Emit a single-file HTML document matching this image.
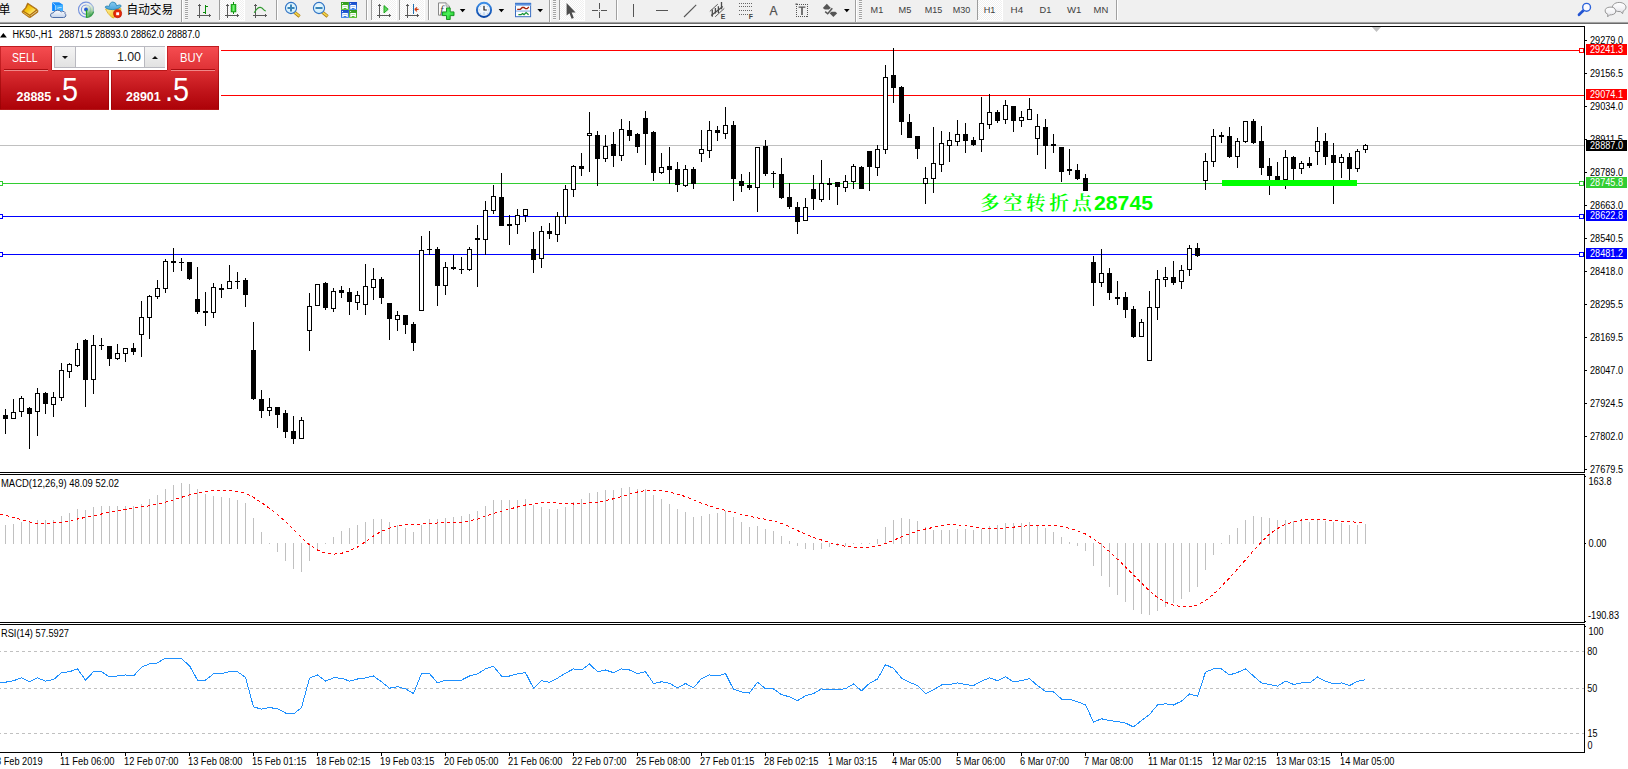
<!DOCTYPE html>
<html><head><meta charset="utf-8"><title>HK50-,H1</title><style>
html,body{margin:0;padding:0;background:#fff}
body{width:1628px;height:769px;overflow:hidden;position:relative;font-family:"Liberation Sans","Noto Sans CJK SC",sans-serif}
#oc{position:absolute;left:0;top:46px;width:219px;height:64px;color:#fff}
#oc .wbg{position:absolute;left:52px;top:0;width:115px;height:64px;background:#fff}
#oc .wbg2{position:absolute;left:219px;top:0;width:2px;height:64px;background:#fff}
#oc .tab{position:absolute;top:0;height:25px;background:linear-gradient(#f54c50,#dd3034);box-sizing:border-box;border:1px solid rgba(165,10,12,.55);border-bottom:none}
#oc .btn{position:absolute;top:24px;height:40px;background:linear-gradient(#dc2e32,#c0141a 55%,#ad0208);box-sizing:border-box;border:1px solid rgba(140,0,0,.5);border-top:none}
#oc .bt{position:absolute;top:24px;height:1px;background:rgba(150,0,0,.5)}
#oc .ud{position:absolute;top:23px;width:44px;height:1px;background:#ab0d12}
#oc .ul{position:absolute;top:24px;width:44px;height:1px;background:#f08888}
#oc .vol{position:absolute;left:54px;top:0;width:111px;height:22px;background:#fff;box-sizing:border-box;border:1px solid #b9b9c0}
#oc .vb{position:absolute;top:0;height:20px;background:linear-gradient(#f4f4f4,#e2e2e2);box-sizing:border-box}
#oc .vb:first-child{border-right:1px solid #b9b9c0}
#oc .vb:last-child{border-left:1px solid #b9b9c0}
#oc .vi{position:absolute;left:21px;top:0;width:68px;height:20px;line-height:21px;text-align:right;box-sizing:border-box;padding-right:3px;color:#222;font-size:12.4px}
#oc i{position:absolute;left:7px;width:0;height:0;border-left:3px solid transparent;border-right:3px solid transparent}
#oc i.dn{top:9px;border-top:3.2px solid #111}
#oc i.up{top:8.5px;border-bottom:3.2px solid #111}
#oc .lbl{position:absolute;top:4.6px;font-size:12.2px;line-height:14px;transform-origin:0 0}
#oc .pr{position:absolute;top:44.5px;font-size:12.5px;font-weight:bold;line-height:12px}
#oc .big{position:absolute;top:28px;font-size:32.6px;line-height:32px;letter-spacing:0px;transform:scaleX(0.885);transform-origin:0 0}
</style></head><body>
<svg width="1628" height="769" viewBox="0 0 1628 769" style="position:absolute;left:0;top:0" font-family="'Liberation Sans',sans-serif" font-size="10px">
<g shape-rendering="crispEdges">
<rect x="0" y="50" width="1584" height="1" fill="#ff0000"/>
<rect x="0" y="95" width="1584" height="1" fill="#ff0000"/>
<rect x="0" y="145" width="1584" height="1" fill="#c0c0c0"/>
<rect x="0" y="183" width="1584" height="1" fill="#32cd32"/>
<rect x="0" y="216" width="1584" height="1" fill="#0000ff"/>
<rect x="0" y="254" width="1584" height="1" fill="#0000ff"/>
<rect x="1579.5" y="48.5" width="4" height="4" fill="#fff" stroke="#ff0000" stroke-width="1"/>
<rect x="1579.5" y="181.5" width="4" height="4" fill="#fff" stroke="#32cd32" stroke-width="1"/>
<rect x="-1.5" y="181.5" width="4" height="4" fill="#fff" stroke="#32cd32" stroke-width="1"/>
<rect x="1579.5" y="214.5" width="4" height="4" fill="#fff" stroke="#0000ff" stroke-width="1"/>
<rect x="-1.5" y="214.5" width="4" height="4" fill="#fff" stroke="#0000ff" stroke-width="1"/>
<rect x="1579.5" y="252.5" width="4" height="4" fill="#fff" stroke="#0000ff" stroke-width="1"/>
<rect x="-1.5" y="252.5" width="4" height="4" fill="#fff" stroke="#0000ff" stroke-width="1"/>
<rect x="5" y="409" width="1" height="25" fill="#000"/>
<rect x="3" y="415" width="5" height="4" fill="#000"/>
<rect x="13" y="399" width="1" height="20" fill="#000"/>
<rect x="11.5" y="412.5" width="4" height="6" fill="#fff" stroke="#000" stroke-width="1"/>
<rect x="21" y="396" width="1" height="21" fill="#000"/>
<rect x="19.5" y="398.5" width="4" height="13" fill="#fff" stroke="#000" stroke-width="1"/>
<rect x="29" y="407" width="1" height="42" fill="#000"/>
<rect x="27" y="408" width="5" height="6" fill="#000"/>
<rect x="37" y="388" width="1" height="48" fill="#000"/>
<rect x="35.5" y="393.5" width="4" height="18" fill="#fff" stroke="#000" stroke-width="1"/>
<rect x="45" y="392" width="1" height="22" fill="#000"/>
<rect x="43" y="393" width="5" height="11" fill="#000"/>
<rect x="53" y="392" width="1" height="25" fill="#000"/>
<rect x="51.5" y="397.5" width="4" height="7" fill="#fff" stroke="#000" stroke-width="1"/>
<rect x="61" y="363" width="1" height="38" fill="#000"/>
<rect x="59.5" y="370.5" width="4" height="27" fill="#fff" stroke="#000" stroke-width="1"/>
<rect x="69" y="363" width="1" height="15" fill="#000"/>
<rect x="67.5" y="364.5" width="4" height="7" fill="#fff" stroke="#000" stroke-width="1"/>
<rect x="77" y="343" width="1" height="24" fill="#000"/>
<rect x="75.5" y="349.5" width="4" height="16" fill="#fff" stroke="#000" stroke-width="1"/>
<rect x="85" y="339" width="1" height="68" fill="#000"/>
<rect x="83" y="340" width="5" height="40" fill="#000"/>
<rect x="93" y="335" width="1" height="59" fill="#000"/>
<rect x="91.5" y="345.5" width="4" height="34" fill="#fff" stroke="#000" stroke-width="1"/>
<rect x="101" y="338" width="1" height="12" fill="#000"/>
<rect x="99" y="345" width="5" height="1" fill="#000"/>
<rect x="109" y="346" width="1" height="20" fill="#000"/>
<rect x="107" y="346" width="5" height="13" fill="#000"/>
<rect x="117" y="344" width="1" height="16" fill="#000"/>
<rect x="115.5" y="353.5" width="4" height="5" fill="#fff" stroke="#000" stroke-width="1"/>
<rect x="125" y="348" width="1" height="14" fill="#000"/>
<rect x="123.5" y="348.5" width="4" height="5" fill="#fff" stroke="#000" stroke-width="1"/>
<rect x="133" y="343" width="1" height="12" fill="#000"/>
<rect x="131" y="348" width="5" height="4" fill="#000"/>
<rect x="141" y="301" width="1" height="56" fill="#000"/>
<rect x="139.5" y="317.5" width="4" height="17" fill="#fff" stroke="#000" stroke-width="1"/>
<rect x="149" y="295" width="1" height="44" fill="#000"/>
<rect x="147.5" y="296.5" width="4" height="21" fill="#fff" stroke="#000" stroke-width="1"/>
<rect x="157" y="280" width="1" height="19" fill="#000"/>
<rect x="155.5" y="288.5" width="4" height="8" fill="#fff" stroke="#000" stroke-width="1"/>
<rect x="165" y="259" width="1" height="34" fill="#000"/>
<rect x="163.5" y="261.5" width="4" height="27" fill="#fff" stroke="#000" stroke-width="1"/>
<rect x="173" y="248" width="1" height="24" fill="#000"/>
<rect x="171" y="261" width="5" height="2" fill="#000"/>
<rect x="181" y="258" width="1" height="13" fill="#000"/>
<rect x="179" y="262" width="5" height="1" fill="#000"/>
<rect x="189" y="262" width="1" height="18" fill="#000"/>
<rect x="187" y="262" width="5" height="17" fill="#000"/>
<rect x="197" y="267" width="1" height="47" fill="#000"/>
<rect x="195" y="299" width="5" height="13" fill="#000"/>
<rect x="205" y="292" width="1" height="34" fill="#000"/>
<rect x="203" y="311" width="5" height="2" fill="#000"/>
<rect x="213" y="283" width="1" height="35" fill="#000"/>
<rect x="211.5" y="287.5" width="4" height="25" fill="#fff" stroke="#000" stroke-width="1"/>
<rect x="221" y="284" width="1" height="14" fill="#000"/>
<rect x="219" y="288" width="5" height="2" fill="#000"/>
<rect x="229" y="265" width="1" height="24" fill="#000"/>
<rect x="227.5" y="281.5" width="4" height="7" fill="#fff" stroke="#000" stroke-width="1"/>
<rect x="237" y="272" width="1" height="17" fill="#000"/>
<rect x="235" y="281" width="5" height="1" fill="#000"/>
<rect x="245" y="278" width="1" height="29" fill="#000"/>
<rect x="243" y="280" width="5" height="15" fill="#000"/>
<rect x="253" y="322" width="1" height="78" fill="#000"/>
<rect x="251" y="350" width="5" height="49" fill="#000"/>
<rect x="261" y="390" width="1" height="28" fill="#000"/>
<rect x="259" y="399" width="5" height="12" fill="#000"/>
<rect x="269" y="398" width="1" height="18" fill="#000"/>
<rect x="267.5" y="407.5" width="4" height="3" fill="#fff" stroke="#000" stroke-width="1"/>
<rect x="277" y="407" width="1" height="21" fill="#000"/>
<rect x="275" y="407" width="5" height="8" fill="#000"/>
<rect x="285" y="410" width="1" height="28" fill="#000"/>
<rect x="283" y="413" width="5" height="19" fill="#000"/>
<rect x="293" y="416" width="1" height="28" fill="#000"/>
<rect x="291" y="431" width="5" height="8" fill="#000"/>
<rect x="301" y="417" width="1" height="22" fill="#000"/>
<rect x="299.5" y="420.5" width="4" height="18" fill="#fff" stroke="#000" stroke-width="1"/>
<rect x="309" y="293" width="1" height="58" fill="#000"/>
<rect x="307.5" y="306.5" width="4" height="24" fill="#fff" stroke="#000" stroke-width="1"/>
<rect x="317" y="284" width="1" height="22" fill="#000"/>
<rect x="315.5" y="284.5" width="4" height="21" fill="#fff" stroke="#000" stroke-width="1"/>
<rect x="325" y="282" width="1" height="28" fill="#000"/>
<rect x="323" y="283" width="5" height="25" fill="#000"/>
<rect x="333" y="288" width="1" height="24" fill="#000"/>
<rect x="331.5" y="291.5" width="4" height="17" fill="#fff" stroke="#000" stroke-width="1"/>
<rect x="341" y="286" width="1" height="12" fill="#000"/>
<rect x="339" y="290" width="5" height="3" fill="#000"/>
<rect x="349" y="288" width="1" height="27" fill="#000"/>
<rect x="347" y="292" width="5" height="10" fill="#000"/>
<rect x="357" y="291" width="1" height="19" fill="#000"/>
<rect x="355.5" y="295.5" width="4" height="7" fill="#fff" stroke="#000" stroke-width="1"/>
<rect x="365" y="264" width="1" height="51" fill="#000"/>
<rect x="363.5" y="286.5" width="4" height="18" fill="#fff" stroke="#000" stroke-width="1"/>
<rect x="373" y="268" width="1" height="32" fill="#000"/>
<rect x="371.5" y="279.5" width="4" height="8" fill="#fff" stroke="#000" stroke-width="1"/>
<rect x="381" y="277" width="1" height="27" fill="#000"/>
<rect x="379" y="279" width="5" height="19" fill="#000"/>
<rect x="389" y="303" width="1" height="37" fill="#000"/>
<rect x="387" y="303" width="5" height="16" fill="#000"/>
<rect x="397" y="311" width="1" height="20" fill="#000"/>
<rect x="395.5" y="315.5" width="4" height="4" fill="#fff" stroke="#000" stroke-width="1"/>
<rect x="405" y="315" width="1" height="19" fill="#000"/>
<rect x="403" y="315" width="5" height="10" fill="#000"/>
<rect x="413" y="322" width="1" height="29" fill="#000"/>
<rect x="411" y="324" width="5" height="19" fill="#000"/>
<rect x="421" y="236" width="1" height="75" fill="#000"/>
<rect x="419.5" y="250.5" width="4" height="60" fill="#fff" stroke="#000" stroke-width="1"/>
<rect x="429" y="231" width="1" height="24" fill="#000"/>
<rect x="427" y="249" width="5" height="1" fill="#000"/>
<rect x="437" y="247" width="1" height="59" fill="#000"/>
<rect x="435" y="249" width="5" height="37" fill="#000"/>
<rect x="445" y="262" width="1" height="33" fill="#000"/>
<rect x="443.5" y="267.5" width="4" height="18" fill="#fff" stroke="#000" stroke-width="1"/>
<rect x="453" y="255" width="1" height="15" fill="#000"/>
<rect x="451" y="267" width="5" height="2" fill="#000"/>
<rect x="461" y="257" width="1" height="17" fill="#000"/>
<rect x="459" y="269" width="5" height="1" fill="#000"/>
<rect x="469" y="247" width="1" height="24" fill="#000"/>
<rect x="467.5" y="249.5" width="4" height="20" fill="#fff" stroke="#000" stroke-width="1"/>
<rect x="477" y="225" width="1" height="62" fill="#000"/>
<rect x="475" y="238" width="5" height="2" fill="#000"/>
<rect x="485" y="201" width="1" height="54" fill="#000"/>
<rect x="483.5" y="210.5" width="4" height="29" fill="#fff" stroke="#000" stroke-width="1"/>
<rect x="493" y="185" width="1" height="29" fill="#000"/>
<rect x="491.5" y="196.5" width="4" height="14" fill="#fff" stroke="#000" stroke-width="1"/>
<rect x="501" y="173" width="1" height="53" fill="#000"/>
<rect x="499" y="197" width="5" height="29" fill="#000"/>
<rect x="509" y="215" width="1" height="30" fill="#000"/>
<rect x="507" y="224" width="5" height="2" fill="#000"/>
<rect x="517" y="209" width="1" height="25" fill="#000"/>
<rect x="515.5" y="215.5" width="4" height="9" fill="#fff" stroke="#000" stroke-width="1"/>
<rect x="525" y="209" width="1" height="13" fill="#000"/>
<rect x="523.5" y="209.5" width="4" height="6" fill="#fff" stroke="#000" stroke-width="1"/>
<rect x="533" y="232" width="1" height="41" fill="#000"/>
<rect x="531" y="249" width="5" height="11" fill="#000"/>
<rect x="541" y="226" width="1" height="42" fill="#000"/>
<rect x="539.5" y="231.5" width="4" height="27" fill="#fff" stroke="#000" stroke-width="1"/>
<rect x="549" y="223" width="1" height="16" fill="#000"/>
<rect x="547" y="231" width="5" height="3" fill="#000"/>
<rect x="557" y="212" width="1" height="30" fill="#000"/>
<rect x="555.5" y="216.5" width="4" height="18" fill="#fff" stroke="#000" stroke-width="1"/>
<rect x="565" y="185" width="1" height="39" fill="#000"/>
<rect x="563.5" y="189.5" width="4" height="27" fill="#fff" stroke="#000" stroke-width="1"/>
<rect x="573" y="165" width="1" height="32" fill="#000"/>
<rect x="571.5" y="166.5" width="4" height="23" fill="#fff" stroke="#000" stroke-width="1"/>
<rect x="581" y="153" width="1" height="23" fill="#000"/>
<rect x="579" y="166" width="5" height="3" fill="#000"/>
<rect x="589" y="112" width="1" height="60" fill="#000"/>
<rect x="587.5" y="133.5" width="4" height="2" fill="#fff" stroke="#000" stroke-width="1"/>
<rect x="597" y="131" width="1" height="55" fill="#000"/>
<rect x="595" y="135" width="5" height="24" fill="#000"/>
<rect x="605" y="135" width="1" height="27" fill="#000"/>
<rect x="603.5" y="146.5" width="4" height="12" fill="#fff" stroke="#000" stroke-width="1"/>
<rect x="613" y="132" width="1" height="35" fill="#000"/>
<rect x="611" y="144" width="5" height="12" fill="#000"/>
<rect x="621" y="119" width="1" height="42" fill="#000"/>
<rect x="619.5" y="129.5" width="4" height="26" fill="#fff" stroke="#000" stroke-width="1"/>
<rect x="629" y="121" width="1" height="20" fill="#000"/>
<rect x="627" y="130" width="5" height="6" fill="#000"/>
<rect x="637" y="133" width="1" height="20" fill="#000"/>
<rect x="635" y="134" width="5" height="13" fill="#000"/>
<rect x="645" y="111" width="1" height="54" fill="#000"/>
<rect x="643" y="118" width="5" height="16" fill="#000"/>
<rect x="653" y="131" width="1" height="50" fill="#000"/>
<rect x="651" y="132" width="5" height="41" fill="#000"/>
<rect x="661" y="153" width="1" height="21" fill="#000"/>
<rect x="659.5" y="167.5" width="4" height="5" fill="#fff" stroke="#000" stroke-width="1"/>
<rect x="669" y="147" width="1" height="37" fill="#000"/>
<rect x="667" y="166" width="5" height="4" fill="#000"/>
<rect x="677" y="162" width="1" height="30" fill="#000"/>
<rect x="675" y="169" width="5" height="16" fill="#000"/>
<rect x="685" y="165" width="1" height="22" fill="#000"/>
<rect x="683.5" y="169.5" width="4" height="16" fill="#fff" stroke="#000" stroke-width="1"/>
<rect x="693" y="167" width="1" height="22" fill="#000"/>
<rect x="691" y="169" width="5" height="15" fill="#000"/>
<rect x="701" y="130" width="1" height="32" fill="#000"/>
<rect x="699.5" y="149.5" width="4" height="4" fill="#fff" stroke="#000" stroke-width="1"/>
<rect x="709" y="121" width="1" height="37" fill="#000"/>
<rect x="707.5" y="130.5" width="4" height="20" fill="#fff" stroke="#000" stroke-width="1"/>
<rect x="717" y="126" width="1" height="15" fill="#000"/>
<rect x="715" y="130" width="5" height="3" fill="#000"/>
<rect x="725" y="107" width="1" height="32" fill="#000"/>
<rect x="723.5" y="125.5" width="4" height="8" fill="#fff" stroke="#000" stroke-width="1"/>
<rect x="733" y="121" width="1" height="80" fill="#000"/>
<rect x="731" y="125" width="5" height="54" fill="#000"/>
<rect x="741" y="174" width="1" height="18" fill="#000"/>
<rect x="739" y="181" width="5" height="5" fill="#000"/>
<rect x="749" y="172" width="1" height="18" fill="#000"/>
<rect x="747" y="185" width="5" height="3" fill="#000"/>
<rect x="757" y="147" width="1" height="65" fill="#000"/>
<rect x="755.5" y="147.5" width="4" height="40" fill="#fff" stroke="#000" stroke-width="1"/>
<rect x="765" y="140" width="1" height="36" fill="#000"/>
<rect x="763" y="146" width="5" height="28" fill="#000"/>
<rect x="773" y="171" width="1" height="17" fill="#000"/>
<rect x="771" y="173" width="5" height="1" fill="#000"/>
<rect x="781" y="158" width="1" height="41" fill="#000"/>
<rect x="779" y="174" width="5" height="24" fill="#000"/>
<rect x="789" y="183" width="1" height="26" fill="#000"/>
<rect x="787" y="197" width="5" height="10" fill="#000"/>
<rect x="797" y="202" width="1" height="32" fill="#000"/>
<rect x="795" y="207" width="5" height="15" fill="#000"/>
<rect x="805" y="198" width="1" height="23" fill="#000"/>
<rect x="803.5" y="207.5" width="4" height="13" fill="#fff" stroke="#000" stroke-width="1"/>
<rect x="813" y="175" width="1" height="35" fill="#000"/>
<rect x="811" y="189" width="5" height="10" fill="#000"/>
<rect x="821" y="160" width="1" height="42" fill="#000"/>
<rect x="819.5" y="183.5" width="4" height="16" fill="#fff" stroke="#000" stroke-width="1"/>
<rect x="829" y="178" width="1" height="22" fill="#000"/>
<rect x="827" y="183" width="5" height="2" fill="#000"/>
<rect x="837" y="182" width="1" height="23" fill="#000"/>
<rect x="835" y="182" width="5" height="5" fill="#000"/>
<rect x="845" y="175" width="1" height="17" fill="#000"/>
<rect x="843.5" y="181.5" width="4" height="6" fill="#fff" stroke="#000" stroke-width="1"/>
<rect x="853" y="164" width="1" height="25" fill="#000"/>
<rect x="851.5" y="166.5" width="4" height="15" fill="#fff" stroke="#000" stroke-width="1"/>
<rect x="861" y="166" width="1" height="23" fill="#000"/>
<rect x="859" y="167" width="5" height="22" fill="#000"/>
<rect x="869" y="151" width="1" height="40" fill="#000"/>
<rect x="867" y="151" width="5" height="16" fill="#000"/>
<rect x="877" y="145" width="1" height="31" fill="#000"/>
<rect x="875.5" y="149.5" width="4" height="18" fill="#fff" stroke="#000" stroke-width="1"/>
<rect x="885" y="65" width="1" height="89" fill="#000"/>
<rect x="883.5" y="77.5" width="4" height="72" fill="#fff" stroke="#000" stroke-width="1"/>
<rect x="893" y="48" width="1" height="55" fill="#000"/>
<rect x="891" y="75" width="5" height="13" fill="#000"/>
<rect x="901" y="86" width="1" height="49" fill="#000"/>
<rect x="899" y="87" width="5" height="35" fill="#000"/>
<rect x="909" y="114" width="1" height="24" fill="#000"/>
<rect x="907" y="122" width="5" height="16" fill="#000"/>
<rect x="917" y="136" width="1" height="23" fill="#000"/>
<rect x="915" y="136" width="5" height="13" fill="#000"/>
<rect x="925" y="167" width="1" height="37" fill="#000"/>
<rect x="923.5" y="178.5" width="4" height="5" fill="#fff" stroke="#000" stroke-width="1"/>
<rect x="933" y="127" width="1" height="66" fill="#000"/>
<rect x="931.5" y="163.5" width="4" height="15" fill="#fff" stroke="#000" stroke-width="1"/>
<rect x="941" y="131" width="1" height="41" fill="#000"/>
<rect x="939.5" y="143.5" width="4" height="21" fill="#fff" stroke="#000" stroke-width="1"/>
<rect x="949" y="132" width="1" height="30" fill="#000"/>
<rect x="947.5" y="140.5" width="4" height="5" fill="#fff" stroke="#000" stroke-width="1"/>
<rect x="957" y="120" width="1" height="26" fill="#000"/>
<rect x="955.5" y="134.5" width="4" height="7" fill="#fff" stroke="#000" stroke-width="1"/>
<rect x="965" y="123" width="1" height="30" fill="#000"/>
<rect x="963" y="134" width="5" height="7" fill="#000"/>
<rect x="973" y="137" width="1" height="9" fill="#000"/>
<rect x="971" y="140" width="5" height="5" fill="#000"/>
<rect x="981" y="97" width="1" height="55" fill="#000"/>
<rect x="979.5" y="123.5" width="4" height="16" fill="#fff" stroke="#000" stroke-width="1"/>
<rect x="989" y="94" width="1" height="35" fill="#000"/>
<rect x="987.5" y="112.5" width="4" height="12" fill="#fff" stroke="#000" stroke-width="1"/>
<rect x="997" y="110" width="1" height="13" fill="#000"/>
<rect x="995" y="112" width="5" height="9" fill="#000"/>
<rect x="1005" y="100" width="1" height="24" fill="#000"/>
<rect x="1003.5" y="105.5" width="4" height="14" fill="#fff" stroke="#000" stroke-width="1"/>
<rect x="1013" y="106" width="1" height="26" fill="#000"/>
<rect x="1011" y="106" width="5" height="15" fill="#000"/>
<rect x="1021" y="111" width="1" height="16" fill="#000"/>
<rect x="1019.5" y="117.5" width="4" height="3" fill="#fff" stroke="#000" stroke-width="1"/>
<rect x="1029" y="98" width="1" height="22" fill="#000"/>
<rect x="1027.5" y="109.5" width="4" height="10" fill="#fff" stroke="#000" stroke-width="1"/>
<rect x="1037" y="114" width="1" height="41" fill="#000"/>
<rect x="1035.5" y="126.5" width="4" height="12" fill="#fff" stroke="#000" stroke-width="1"/>
<rect x="1045" y="119" width="1" height="50" fill="#000"/>
<rect x="1043" y="127" width="5" height="19" fill="#000"/>
<rect x="1053" y="134" width="1" height="19" fill="#000"/>
<rect x="1051" y="144" width="5" height="2" fill="#000"/>
<rect x="1061" y="147" width="1" height="35" fill="#000"/>
<rect x="1059" y="147" width="5" height="25" fill="#000"/>
<rect x="1069" y="149" width="1" height="26" fill="#000"/>
<rect x="1067" y="169" width="5" height="2" fill="#000"/>
<rect x="1077" y="164" width="1" height="16" fill="#000"/>
<rect x="1075" y="170" width="5" height="9" fill="#000"/>
<rect x="1085" y="174" width="1" height="17" fill="#000"/>
<rect x="1083" y="178" width="5" height="13" fill="#000"/>
<rect x="1093" y="256" width="1" height="50" fill="#000"/>
<rect x="1091" y="262" width="5" height="21" fill="#000"/>
<rect x="1101" y="249" width="1" height="38" fill="#000"/>
<rect x="1099.5" y="273.5" width="4" height="9" fill="#fff" stroke="#000" stroke-width="1"/>
<rect x="1109" y="268" width="1" height="32" fill="#000"/>
<rect x="1107" y="273" width="5" height="20" fill="#000"/>
<rect x="1117" y="281" width="1" height="24" fill="#000"/>
<rect x="1115" y="297" width="5" height="2" fill="#000"/>
<rect x="1125" y="292" width="1" height="26" fill="#000"/>
<rect x="1123" y="297" width="5" height="13" fill="#000"/>
<rect x="1133" y="306" width="1" height="32" fill="#000"/>
<rect x="1131" y="309" width="5" height="28" fill="#000"/>
<rect x="1141" y="319" width="1" height="18" fill="#000"/>
<rect x="1139.5" y="322.5" width="4" height="14" fill="#fff" stroke="#000" stroke-width="1"/>
<rect x="1149" y="291" width="1" height="70" fill="#000"/>
<rect x="1147.5" y="307.5" width="4" height="53" fill="#fff" stroke="#000" stroke-width="1"/>
<rect x="1157" y="270" width="1" height="50" fill="#000"/>
<rect x="1155.5" y="279.5" width="4" height="28" fill="#fff" stroke="#000" stroke-width="1"/>
<rect x="1165" y="267" width="1" height="20" fill="#000"/>
<rect x="1163.5" y="277.5" width="4" height="2" fill="#fff" stroke="#000" stroke-width="1"/>
<rect x="1173" y="261" width="1" height="24" fill="#000"/>
<rect x="1171" y="277" width="5" height="6" fill="#000"/>
<rect x="1181" y="265" width="1" height="24" fill="#000"/>
<rect x="1179.5" y="270.5" width="4" height="11" fill="#fff" stroke="#000" stroke-width="1"/>
<rect x="1189" y="245" width="1" height="31" fill="#000"/>
<rect x="1187.5" y="248.5" width="4" height="21" fill="#fff" stroke="#000" stroke-width="1"/>
<rect x="1197" y="243" width="1" height="14" fill="#000"/>
<rect x="1195" y="248" width="5" height="8" fill="#000"/>
<rect x="1205" y="153" width="1" height="37" fill="#000"/>
<rect x="1203.5" y="161.5" width="4" height="19" fill="#fff" stroke="#000" stroke-width="1"/>
<rect x="1213" y="129" width="1" height="38" fill="#000"/>
<rect x="1211.5" y="136.5" width="4" height="25" fill="#fff" stroke="#000" stroke-width="1"/>
<rect x="1221" y="132" width="1" height="11" fill="#000"/>
<rect x="1219" y="135" width="5" height="2" fill="#000"/>
<rect x="1229" y="127" width="1" height="31" fill="#000"/>
<rect x="1227" y="136" width="5" height="21" fill="#000"/>
<rect x="1237" y="138" width="1" height="30" fill="#000"/>
<rect x="1235.5" y="141.5" width="4" height="15" fill="#fff" stroke="#000" stroke-width="1"/>
<rect x="1245" y="121" width="1" height="22" fill="#000"/>
<rect x="1243.5" y="121.5" width="4" height="20" fill="#fff" stroke="#000" stroke-width="1"/>
<rect x="1253" y="119" width="1" height="25" fill="#000"/>
<rect x="1251" y="121" width="5" height="22" fill="#000"/>
<rect x="1261" y="126" width="1" height="49" fill="#000"/>
<rect x="1259" y="141" width="5" height="27" fill="#000"/>
<rect x="1269" y="158" width="1" height="37" fill="#000"/>
<rect x="1267" y="166" width="5" height="10" fill="#000"/>
<rect x="1277" y="162" width="1" height="19" fill="#000"/>
<rect x="1275" y="176" width="5" height="5" fill="#000"/>
<rect x="1285" y="150" width="1" height="39" fill="#000"/>
<rect x="1283.5" y="157.5" width="4" height="22" fill="#fff" stroke="#000" stroke-width="1"/>
<rect x="1293" y="156" width="1" height="25" fill="#000"/>
<rect x="1291" y="157" width="5" height="12" fill="#000"/>
<rect x="1301" y="161" width="1" height="13" fill="#000"/>
<rect x="1299.5" y="163.5" width="4" height="5" fill="#fff" stroke="#000" stroke-width="1"/>
<rect x="1309" y="157" width="1" height="11" fill="#000"/>
<rect x="1307" y="163" width="5" height="3" fill="#000"/>
<rect x="1317" y="127" width="1" height="38" fill="#000"/>
<rect x="1315.5" y="141.5" width="4" height="10" fill="#fff" stroke="#000" stroke-width="1"/>
<rect x="1325" y="133" width="1" height="32" fill="#000"/>
<rect x="1323" y="141" width="5" height="16" fill="#000"/>
<rect x="1333" y="143" width="1" height="61" fill="#000"/>
<rect x="1331" y="155" width="5" height="8" fill="#000"/>
<rect x="1341" y="154" width="1" height="24" fill="#000"/>
<rect x="1339.5" y="157.5" width="4" height="5" fill="#fff" stroke="#000" stroke-width="1"/>
<rect x="1349" y="153" width="1" height="28" fill="#000"/>
<rect x="1347" y="157" width="5" height="12" fill="#000"/>
<rect x="1357" y="149" width="1" height="23" fill="#000"/>
<rect x="1355.5" y="151.5" width="4" height="17" fill="#fff" stroke="#000" stroke-width="1"/>
<rect x="1365" y="144" width="1" height="9" fill="#000"/>
<rect x="1363.5" y="145.5" width="4" height="4" fill="#fff" stroke="#000" stroke-width="1"/>
<rect x="1222" y="180" width="135" height="6" fill="#00ff00"/>
<rect x="5" y="525" width="1" height="19" fill="#c0c0c0"/>
<rect x="13" y="524" width="1" height="20" fill="#c0c0c0"/>
<rect x="21" y="522" width="1" height="22" fill="#c0c0c0"/>
<rect x="29" y="521" width="1" height="23" fill="#c0c0c0"/>
<rect x="37" y="520" width="1" height="24" fill="#c0c0c0"/>
<rect x="45" y="520" width="1" height="24" fill="#c0c0c0"/>
<rect x="53" y="520" width="1" height="24" fill="#c0c0c0"/>
<rect x="61" y="516" width="1" height="28" fill="#c0c0c0"/>
<rect x="69" y="513" width="1" height="31" fill="#c0c0c0"/>
<rect x="77" y="509" width="1" height="35" fill="#c0c0c0"/>
<rect x="85" y="510" width="1" height="34" fill="#c0c0c0"/>
<rect x="93" y="507" width="1" height="37" fill="#c0c0c0"/>
<rect x="101" y="506" width="1" height="38" fill="#c0c0c0"/>
<rect x="109" y="506" width="1" height="38" fill="#c0c0c0"/>
<rect x="117" y="506" width="1" height="38" fill="#c0c0c0"/>
<rect x="125" y="506" width="1" height="38" fill="#c0c0c0"/>
<rect x="133" y="506" width="1" height="38" fill="#c0c0c0"/>
<rect x="141" y="504" width="1" height="40" fill="#c0c0c0"/>
<rect x="149" y="499" width="1" height="45" fill="#c0c0c0"/>
<rect x="157" y="495" width="1" height="49" fill="#c0c0c0"/>
<rect x="165" y="489" width="1" height="55" fill="#c0c0c0"/>
<rect x="173" y="485" width="1" height="59" fill="#c0c0c0"/>
<rect x="181" y="483" width="1" height="61" fill="#c0c0c0"/>
<rect x="189" y="484" width="1" height="60" fill="#c0c0c0"/>
<rect x="197" y="489" width="1" height="55" fill="#c0c0c0"/>
<rect x="205" y="494" width="1" height="50" fill="#c0c0c0"/>
<rect x="213" y="496" width="1" height="48" fill="#c0c0c0"/>
<rect x="221" y="497" width="1" height="47" fill="#c0c0c0"/>
<rect x="229" y="498" width="1" height="46" fill="#c0c0c0"/>
<rect x="237" y="500" width="1" height="44" fill="#c0c0c0"/>
<rect x="245" y="503" width="1" height="41" fill="#c0c0c0"/>
<rect x="253" y="518" width="1" height="26" fill="#c0c0c0"/>
<rect x="261" y="532" width="1" height="12" fill="#c0c0c0"/>
<rect x="269" y="543" width="1" height="1" fill="#c0c0c0"/>
<rect x="277" y="543" width="1" height="9" fill="#c0c0c0"/>
<rect x="285" y="543" width="1" height="18" fill="#c0c0c0"/>
<rect x="293" y="543" width="1" height="26" fill="#c0c0c0"/>
<rect x="301" y="543" width="1" height="29" fill="#c0c0c0"/>
<rect x="309" y="543" width="1" height="18" fill="#c0c0c0"/>
<rect x="317" y="543" width="1" height="6" fill="#c0c0c0"/>
<rect x="325" y="543" width="1" height="1" fill="#c0c0c0"/>
<rect x="333" y="537" width="1" height="7" fill="#c0c0c0"/>
<rect x="341" y="531" width="1" height="13" fill="#c0c0c0"/>
<rect x="349" y="528" width="1" height="16" fill="#c0c0c0"/>
<rect x="357" y="525" width="1" height="19" fill="#c0c0c0"/>
<rect x="365" y="522" width="1" height="22" fill="#c0c0c0"/>
<rect x="373" y="519" width="1" height="25" fill="#c0c0c0"/>
<rect x="381" y="519" width="1" height="25" fill="#c0c0c0"/>
<rect x="389" y="522" width="1" height="22" fill="#c0c0c0"/>
<rect x="397" y="525" width="1" height="19" fill="#c0c0c0"/>
<rect x="405" y="528" width="1" height="16" fill="#c0c0c0"/>
<rect x="413" y="532" width="1" height="12" fill="#c0c0c0"/>
<rect x="421" y="525" width="1" height="19" fill="#c0c0c0"/>
<rect x="429" y="519" width="1" height="25" fill="#c0c0c0"/>
<rect x="437" y="519" width="1" height="25" fill="#c0c0c0"/>
<rect x="445" y="518" width="1" height="26" fill="#c0c0c0"/>
<rect x="453" y="517" width="1" height="27" fill="#c0c0c0"/>
<rect x="461" y="516" width="1" height="28" fill="#c0c0c0"/>
<rect x="469" y="514" width="1" height="30" fill="#c0c0c0"/>
<rect x="477" y="511" width="1" height="33" fill="#c0c0c0"/>
<rect x="485" y="506" width="1" height="38" fill="#c0c0c0"/>
<rect x="493" y="500" width="1" height="44" fill="#c0c0c0"/>
<rect x="501" y="500" width="1" height="44" fill="#c0c0c0"/>
<rect x="509" y="500" width="1" height="44" fill="#c0c0c0"/>
<rect x="517" y="500" width="1" height="44" fill="#c0c0c0"/>
<rect x="525" y="499" width="1" height="45" fill="#c0c0c0"/>
<rect x="533" y="505" width="1" height="39" fill="#c0c0c0"/>
<rect x="541" y="507" width="1" height="37" fill="#c0c0c0"/>
<rect x="549" y="509" width="1" height="35" fill="#c0c0c0"/>
<rect x="557" y="509" width="1" height="35" fill="#c0c0c0"/>
<rect x="565" y="507" width="1" height="37" fill="#c0c0c0"/>
<rect x="573" y="502" width="1" height="42" fill="#c0c0c0"/>
<rect x="581" y="499" width="1" height="45" fill="#c0c0c0"/>
<rect x="589" y="493" width="1" height="51" fill="#c0c0c0"/>
<rect x="597" y="492" width="1" height="52" fill="#c0c0c0"/>
<rect x="605" y="490" width="1" height="54" fill="#c0c0c0"/>
<rect x="613" y="490" width="1" height="54" fill="#c0c0c0"/>
<rect x="621" y="488" width="1" height="56" fill="#c0c0c0"/>
<rect x="629" y="487" width="1" height="57" fill="#c0c0c0"/>
<rect x="637" y="489" width="1" height="55" fill="#c0c0c0"/>
<rect x="645" y="489" width="1" height="55" fill="#c0c0c0"/>
<rect x="653" y="495" width="1" height="49" fill="#c0c0c0"/>
<rect x="661" y="499" width="1" height="45" fill="#c0c0c0"/>
<rect x="669" y="504" width="1" height="40" fill="#c0c0c0"/>
<rect x="677" y="509" width="1" height="35" fill="#c0c0c0"/>
<rect x="685" y="512" width="1" height="32" fill="#c0c0c0"/>
<rect x="693" y="517" width="1" height="27" fill="#c0c0c0"/>
<rect x="701" y="516" width="1" height="28" fill="#c0c0c0"/>
<rect x="709" y="514" width="1" height="30" fill="#c0c0c0"/>
<rect x="717" y="513" width="1" height="31" fill="#c0c0c0"/>
<rect x="725" y="511" width="1" height="33" fill="#c0c0c0"/>
<rect x="733" y="517" width="1" height="27" fill="#c0c0c0"/>
<rect x="741" y="522" width="1" height="22" fill="#c0c0c0"/>
<rect x="749" y="527" width="1" height="17" fill="#c0c0c0"/>
<rect x="757" y="526" width="1" height="18" fill="#c0c0c0"/>
<rect x="765" y="529" width="1" height="15" fill="#c0c0c0"/>
<rect x="773" y="531" width="1" height="13" fill="#c0c0c0"/>
<rect x="781" y="536" width="1" height="8" fill="#c0c0c0"/>
<rect x="789" y="541" width="1" height="3" fill="#c0c0c0"/>
<rect x="797" y="543" width="1" height="3" fill="#c0c0c0"/>
<rect x="805" y="543" width="1" height="6" fill="#c0c0c0"/>
<rect x="813" y="543" width="1" height="7" fill="#c0c0c0"/>
<rect x="821" y="543" width="1" height="6" fill="#c0c0c0"/>
<rect x="829" y="543" width="1" height="4" fill="#c0c0c0"/>
<rect x="837" y="543" width="1" height="3" fill="#c0c0c0"/>
<rect x="845" y="543" width="1" height="3" fill="#c0c0c0"/>
<rect x="853" y="543" width="1" height="1" fill="#c0c0c0"/>
<rect x="861" y="543" width="1" height="1" fill="#c0c0c0"/>
<rect x="869" y="543" width="1" height="1" fill="#c0c0c0"/>
<rect x="877" y="539" width="1" height="5" fill="#c0c0c0"/>
<rect x="885" y="527" width="1" height="17" fill="#c0c0c0"/>
<rect x="893" y="520" width="1" height="24" fill="#c0c0c0"/>
<rect x="901" y="518" width="1" height="26" fill="#c0c0c0"/>
<rect x="909" y="519" width="1" height="25" fill="#c0c0c0"/>
<rect x="917" y="521" width="1" height="23" fill="#c0c0c0"/>
<rect x="925" y="527" width="1" height="17" fill="#c0c0c0"/>
<rect x="933" y="530" width="1" height="14" fill="#c0c0c0"/>
<rect x="941" y="530" width="1" height="14" fill="#c0c0c0"/>
<rect x="949" y="530" width="1" height="14" fill="#c0c0c0"/>
<rect x="957" y="529" width="1" height="15" fill="#c0c0c0"/>
<rect x="965" y="529" width="1" height="15" fill="#c0c0c0"/>
<rect x="973" y="530" width="1" height="14" fill="#c0c0c0"/>
<rect x="981" y="529" width="1" height="15" fill="#c0c0c0"/>
<rect x="989" y="526" width="1" height="18" fill="#c0c0c0"/>
<rect x="997" y="525" width="1" height="19" fill="#c0c0c0"/>
<rect x="1005" y="523" width="1" height="21" fill="#c0c0c0"/>
<rect x="1013" y="523" width="1" height="21" fill="#c0c0c0"/>
<rect x="1021" y="523" width="1" height="21" fill="#c0c0c0"/>
<rect x="1029" y="522" width="1" height="22" fill="#c0c0c0"/>
<rect x="1037" y="525" width="1" height="19" fill="#c0c0c0"/>
<rect x="1045" y="528" width="1" height="16" fill="#c0c0c0"/>
<rect x="1053" y="532" width="1" height="12" fill="#c0c0c0"/>
<rect x="1061" y="537" width="1" height="7" fill="#c0c0c0"/>
<rect x="1069" y="542" width="1" height="2" fill="#c0c0c0"/>
<rect x="1077" y="543" width="1" height="3" fill="#c0c0c0"/>
<rect x="1085" y="543" width="1" height="8" fill="#c0c0c0"/>
<rect x="1093" y="543" width="1" height="23" fill="#c0c0c0"/>
<rect x="1101" y="543" width="1" height="33" fill="#c0c0c0"/>
<rect x="1109" y="543" width="1" height="44" fill="#c0c0c0"/>
<rect x="1117" y="543" width="1" height="52" fill="#c0c0c0"/>
<rect x="1125" y="543" width="1" height="59" fill="#c0c0c0"/>
<rect x="1133" y="543" width="1" height="67" fill="#c0c0c0"/>
<rect x="1141" y="543" width="1" height="71" fill="#c0c0c0"/>
<rect x="1149" y="543" width="1" height="72" fill="#c0c0c0"/>
<rect x="1157" y="543" width="1" height="68" fill="#c0c0c0"/>
<rect x="1165" y="543" width="1" height="64" fill="#c0c0c0"/>
<rect x="1173" y="543" width="1" height="60" fill="#c0c0c0"/>
<rect x="1181" y="543" width="1" height="56" fill="#c0c0c0"/>
<rect x="1189" y="543" width="1" height="49" fill="#c0c0c0"/>
<rect x="1197" y="543" width="1" height="44" fill="#c0c0c0"/>
<rect x="1205" y="543" width="1" height="27" fill="#c0c0c0"/>
<rect x="1213" y="543" width="1" height="12" fill="#c0c0c0"/>
<rect x="1221" y="543" width="1" height="1" fill="#c0c0c0"/>
<rect x="1229" y="535" width="1" height="9" fill="#c0c0c0"/>
<rect x="1237" y="528" width="1" height="16" fill="#c0c0c0"/>
<rect x="1245" y="520" width="1" height="24" fill="#c0c0c0"/>
<rect x="1253" y="516" width="1" height="28" fill="#c0c0c0"/>
<rect x="1261" y="517" width="1" height="27" fill="#c0c0c0"/>
<rect x="1269" y="518" width="1" height="26" fill="#c0c0c0"/>
<rect x="1277" y="520" width="1" height="24" fill="#c0c0c0"/>
<rect x="1285" y="520" width="1" height="24" fill="#c0c0c0"/>
<rect x="1293" y="521" width="1" height="23" fill="#c0c0c0"/>
<rect x="1301" y="521" width="1" height="23" fill="#c0c0c0"/>
<rect x="1309" y="522" width="1" height="22" fill="#c0c0c0"/>
<rect x="1317" y="520" width="1" height="24" fill="#c0c0c0"/>
<rect x="1325" y="521" width="1" height="23" fill="#c0c0c0"/>
<rect x="1333" y="522" width="1" height="22" fill="#c0c0c0"/>
<rect x="1341" y="523" width="1" height="21" fill="#c0c0c0"/>
<rect x="1349" y="525" width="1" height="19" fill="#c0c0c0"/>
<rect x="1357" y="525" width="1" height="19" fill="#c0c0c0"/>
<rect x="1365" y="524" width="1" height="20" fill="#c0c0c0"/>
<line x1="0" y1="651.5" x2="1584" y2="651.5" stroke="#c0c0c0" stroke-width="1" stroke-dasharray="3 3" stroke-dashoffset="2"/>
<line x1="0" y1="688.5" x2="1584" y2="688.5" stroke="#c0c0c0" stroke-width="1" stroke-dasharray="3 3" stroke-dashoffset="2"/>
<line x1="0" y1="733.5" x2="1584" y2="733.5" stroke="#c0c0c0" stroke-width="1" stroke-dasharray="3 3" stroke-dashoffset="2"/>
<rect x="0" y="26" width="1585" height="1" fill="#000"/>
<rect x="1584" y="26" width="1" height="727" fill="#000"/>
<rect x="0" y="472" width="1585" height="1" fill="#000"/>
<rect x="0" y="474" width="1585" height="1" fill="#000"/>
<rect x="0" y="622" width="1585" height="1" fill="#000"/>
<rect x="0" y="624" width="1585" height="1" fill="#000"/>
<rect x="0" y="752" width="1585" height="1" fill="#000"/>
<rect x="1584" y="473" width="1" height="1" fill="#fff"/>
<rect x="1584" y="623" width="1" height="1" fill="#fff"/>
<rect x="1585" y="40" width="2" height="1" fill="#000"/>
<rect x="1585" y="73" width="2" height="1" fill="#000"/>
<rect x="1585" y="106" width="2" height="1" fill="#000"/>
<rect x="1585" y="139" width="2" height="1" fill="#000"/>
<rect x="1585" y="172" width="2" height="1" fill="#000"/>
<rect x="1585" y="205" width="2" height="1" fill="#000"/>
<rect x="1585" y="238" width="2" height="1" fill="#000"/>
<rect x="1585" y="271" width="2" height="1" fill="#000"/>
<rect x="1585" y="304" width="2" height="1" fill="#000"/>
<rect x="1585" y="337" width="2" height="1" fill="#000"/>
<rect x="1585" y="370" width="2" height="1" fill="#000"/>
<rect x="1585" y="403" width="2" height="1" fill="#000"/>
<rect x="1585" y="436" width="2" height="1" fill="#000"/>
<rect x="1585" y="469" width="2" height="1" fill="#000"/>
<rect x="1585" y="476" width="1" height="1" fill="#000"/>
<rect x="1585" y="543" width="1" height="1" fill="#000"/>
<rect x="1585" y="621" width="1" height="1" fill="#000"/>
<rect x="1585" y="626" width="1" height="1" fill="#000"/>
<rect x="61" y="753" width="1" height="3" fill="#000"/>
<rect x="125" y="753" width="1" height="3" fill="#000"/>
<rect x="189" y="753" width="1" height="3" fill="#000"/>
<rect x="253" y="753" width="1" height="3" fill="#000"/>
<rect x="317" y="753" width="1" height="3" fill="#000"/>
<rect x="381" y="753" width="1" height="3" fill="#000"/>
<rect x="445" y="753" width="1" height="3" fill="#000"/>
<rect x="509" y="753" width="1" height="3" fill="#000"/>
<rect x="573" y="753" width="1" height="3" fill="#000"/>
<rect x="637" y="753" width="1" height="3" fill="#000"/>
<rect x="701" y="753" width="1" height="3" fill="#000"/>
<rect x="765" y="753" width="1" height="3" fill="#000"/>
<rect x="829" y="753" width="1" height="3" fill="#000"/>
<rect x="893" y="753" width="1" height="3" fill="#000"/>
<rect x="957" y="753" width="1" height="3" fill="#000"/>
<rect x="1021" y="753" width="1" height="3" fill="#000"/>
<rect x="1085" y="753" width="1" height="3" fill="#000"/>
<rect x="1149" y="753" width="1" height="3" fill="#000"/>
<rect x="1213" y="753" width="1" height="3" fill="#000"/>
<rect x="1277" y="753" width="1" height="3" fill="#000"/>
<rect x="1341" y="753" width="1" height="3" fill="#000"/>
</g>
<path d="M1372 27 L1381 27 L1376.5 32 Z" fill="#c0c0c0"/>
<polyline points="0.0,514.3 3.0,515.0 5.5,515.5 13.5,517.4 21.5,519.8 29.5,521.9 37.5,523.5 45.5,523.8 53.5,522.8 61.5,522.2 69.5,520.8 77.5,519.0 85.5,517.4 93.5,515.7 101.5,514.0 109.5,512.4 117.5,510.8 125.5,509.2 133.5,508.0 141.5,507.0 149.5,505.8 157.5,504.1 165.5,502.2 173.5,499.8 181.5,497.3 189.5,494.9 197.5,493.0 205.5,491.7 213.5,490.7 221.5,490.2 229.5,490.5 237.5,491.6 245.5,493.4 253.5,497.3 261.5,502.5 269.5,508.4 277.5,514.5 285.5,521.5 293.5,529.5 301.5,537.8 309.5,544.8 317.5,550.1 325.5,553.2 333.5,554.2 341.5,553.3 349.5,550.9 357.5,547.0 365.5,541.8 373.5,535.9 381.5,531.2 389.5,528.2 397.5,525.9 405.5,524.7 413.5,524.6 421.5,524.2 429.5,523.4 437.5,523.0 445.5,522.9 453.5,522.8 461.5,522.1 469.5,520.9 477.5,519.1 485.5,516.2 493.5,513.4 501.5,511.2 509.5,509.0 517.5,507.0 525.5,505.0 533.5,503.8 541.5,503.0 549.5,502.8 557.5,503.0 565.5,503.8 573.5,504.0 581.5,503.8 589.5,503.0 597.5,502.3 605.5,500.6 613.5,498.8 621.5,496.5 629.5,494.1 637.5,492.0 645.5,490.5 653.5,490.1 661.5,490.8 669.5,492.1 677.5,494.2 685.5,496.6 693.5,499.8 701.5,503.2 709.5,505.9 717.5,508.6 725.5,510.4 733.5,512.4 741.5,514.3 749.5,516.3 757.5,517.9 765.5,519.2 773.5,520.9 781.5,523.4 789.5,526.6 797.5,530.6 805.5,534.2 813.5,537.4 821.5,540.0 829.5,542.5 837.5,544.6 845.5,546.4 853.5,547.3 861.5,547.6 869.5,547.3 877.5,546.3 885.5,543.6 893.5,540.3 901.5,536.9 909.5,533.8 917.5,530.9 925.5,529.0 933.5,527.4 941.5,525.8 949.5,524.7 957.5,524.8 965.5,525.8 973.5,527.1 981.5,528.2 989.5,528.7 997.5,528.5 1005.5,527.8 1013.5,527.1 1021.5,526.4 1029.5,525.5 1037.5,525.1 1045.5,525.0 1053.5,525.4 1061.5,526.5 1069.5,528.4 1077.5,530.8 1085.5,534.0 1093.5,538.7 1101.5,544.7 1109.5,551.7 1117.5,559.2 1125.5,567.2 1133.5,575.2 1141.5,583.2 1149.5,591.0 1157.5,597.6 1165.5,602.2 1173.5,605.3 1181.5,606.7 1189.5,606.6 1197.5,605.0 1205.5,600.6 1213.5,594.2 1221.5,586.3 1229.5,577.9 1237.5,569.1 1245.5,559.8 1253.5,550.5 1261.5,541.9 1269.5,534.1 1277.5,528.5 1285.5,524.4 1293.5,521.8 1301.5,520.0 1309.5,519.3 1317.5,519.3 1325.5,519.8 1333.5,520.4 1341.5,521.1 1349.5,521.7 1357.5,522.3 1365.5,522.6" fill="none" stroke="#ff0000" stroke-width="1" stroke-dasharray="3 3" shape-rendering="crispEdges"/>
<polyline points="0,682.2 5.5,682.2 13.5,680.7 21.5,677.9 29.5,681.8 37.5,677.9 45.5,681.1 53.5,679.6 61.5,672.7 69.5,671.7 77.5,668.9 85.5,680.1 93.5,671.7 101.5,671.7 109.5,677.0 117.5,676.0 125.5,674.9 133.5,676.0 141.5,667.2 149.5,663.9 157.5,662.9 165.5,658.1 173.5,658.8 181.5,658.8 189.5,665.7 197.5,680.1 205.5,680.1 213.5,673.8 221.5,673.6 229.5,671.7 237.5,671.7 245.5,677.5 253.5,706.9 261.5,709.1 269.5,707.6 277.5,708.7 285.5,713.0 293.5,714.0 301.5,707.6 309.5,678.1 317.5,674.9 325.5,681.1 333.5,677.9 341.5,678.1 349.5,681.1 357.5,679.0 365.5,677.9 373.5,676.0 381.5,681.8 389.5,688.2 397.5,686.7 405.5,688.9 413.5,693.6 421.5,673.6 429.5,673.6 437.5,682.9 445.5,680.1 453.5,680.1 461.5,680.1 469.5,676.0 477.5,673.8 485.5,668.9 493.5,666.3 501.5,676.0 509.5,676.0 517.5,673.8 525.5,672.7 533.5,688.2 541.5,680.7 549.5,682.2 557.5,678.1 565.5,673.2 573.5,668.9 581.5,670.0 589.5,663.9 597.5,671.7 605.5,670.0 613.5,672.7 621.5,668.9 629.5,670.0 637.5,673.6 645.5,671.7 653.5,683.5 661.5,681.8 669.5,683.3 677.5,687.8 685.5,683.5 693.5,687.8 701.5,678.6 709.5,674.9 717.5,676.0 725.5,673.6 733.5,689.3 741.5,691.9 749.5,693.0 757.5,682.2 765.5,688.7 773.5,688.9 781.5,694.7 789.5,696.8 797.5,700.7 805.5,695.8 813.5,693.6 821.5,688.9 829.5,689.9 837.5,689.9 845.5,688.7 853.5,683.9 861.5,690.8 869.5,683.3 877.5,679.0 885.5,664.6 893.5,668.4 901.5,678.1 909.5,682.2 917.5,685.6 925.5,693.6 933.5,689.7 941.5,685.0 949.5,684.6 957.5,682.9 965.5,684.6 973.5,685.6 981.5,681.1 989.5,677.9 997.5,680.7 1005.5,676.8 1013.5,681.8 1021.5,680.7 1029.5,678.6 1037.5,685.6 1045.5,691.5 1053.5,691.9 1061.5,699.0 1069.5,699.0 1077.5,701.8 1085.5,704.8 1093.5,722.0 1101.5,718.8 1109.5,720.5 1117.5,721.6 1125.5,723.1 1133.5,726.9 1141.5,720.5 1149.5,714.5 1157.5,705.0 1165.5,703.7 1173.5,705.0 1181.5,701.1 1189.5,694.0 1197.5,696.2 1205.5,672.1 1213.5,668.9 1221.5,668.9 1229.5,674.9 1237.5,672.5 1245.5,668.9 1253.5,676.0 1261.5,682.9 1269.5,684.6 1277.5,686.1 1285.5,681.1 1293.5,684.4 1301.5,682.9 1309.5,682.9 1317.5,677.0 1325.5,681.3 1333.5,683.9 1341.5,682.9 1349.5,685.6 1357.5,681.3 1365.5,679.6" fill="none" stroke="#1e90ff" stroke-width="1" shape-rendering="crispEdges"/>
<text x="1590" y="44" textLength="33" lengthAdjust="spacingAndGlyphs">29279.0</text>
<text x="1590" y="77" textLength="33" lengthAdjust="spacingAndGlyphs">29156.5</text>
<text x="1590" y="110" textLength="33" lengthAdjust="spacingAndGlyphs">29034.0</text>
<text x="1590" y="143" textLength="33" lengthAdjust="spacingAndGlyphs">28911.5</text>
<text x="1590" y="176" textLength="33" lengthAdjust="spacingAndGlyphs">28789.0</text>
<text x="1590" y="209" textLength="33" lengthAdjust="spacingAndGlyphs">28663.0</text>
<text x="1590" y="242" textLength="33" lengthAdjust="spacingAndGlyphs">28540.5</text>
<text x="1590" y="275" textLength="33" lengthAdjust="spacingAndGlyphs">28418.0</text>
<text x="1590" y="308" textLength="33" lengthAdjust="spacingAndGlyphs">28295.5</text>
<text x="1590" y="341" textLength="33" lengthAdjust="spacingAndGlyphs">28169.5</text>
<text x="1590" y="374" textLength="33" lengthAdjust="spacingAndGlyphs">28047.0</text>
<text x="1590" y="407" textLength="33" lengthAdjust="spacingAndGlyphs">27924.5</text>
<text x="1590" y="440" textLength="33" lengthAdjust="spacingAndGlyphs">27802.0</text>
<text x="1590" y="473" textLength="33" lengthAdjust="spacingAndGlyphs">27679.5</text>
<g>
<rect x="1586" y="44" width="41" height="11" fill="#ff0000"/><text x="1590" y="53" fill="#fff" textLength="33" lengthAdjust="spacingAndGlyphs">29241.3</text>
<rect x="1586" y="89" width="41" height="11" fill="#ff0000"/><text x="1590" y="98" fill="#fff" textLength="33" lengthAdjust="spacingAndGlyphs">29074.1</text>
<rect x="1586" y="140" width="41" height="11" fill="#000000"/><text x="1590" y="149" fill="#fff" textLength="33" lengthAdjust="spacingAndGlyphs">28887.0</text>
<rect x="1586" y="177" width="41" height="11" fill="#32cd32"/><text x="1590" y="186" fill="#fff" textLength="33" lengthAdjust="spacingAndGlyphs">28745.8</text>
<rect x="1586" y="210" width="41" height="11" fill="#0000ff"/><text x="1590" y="219" fill="#fff" textLength="33" lengthAdjust="spacingAndGlyphs">28622.8</text>
<rect x="1586" y="248" width="41" height="11" fill="#0000ff"/><text x="1590" y="257" fill="#fff" textLength="33" lengthAdjust="spacingAndGlyphs">28481.2</text>
</g>
<text x="1588.5" y="485" textLength="23" lengthAdjust="spacingAndGlyphs">163.8</text>
<text x="1588.5" y="547" textLength="18" lengthAdjust="spacingAndGlyphs">0.00</text>
<text x="1588" y="619" textLength="31" lengthAdjust="spacingAndGlyphs">-190.83</text>
<text x="1588.5" y="635" textLength="15" lengthAdjust="spacingAndGlyphs">100</text>
<text x="1587.3" y="655" textLength="10" lengthAdjust="spacingAndGlyphs">80</text>
<text x="1587.3" y="692" textLength="10" lengthAdjust="spacingAndGlyphs">50</text>
<text x="1587.5" y="737" textLength="10" lengthAdjust="spacingAndGlyphs">15</text>
<text x="1587.5" y="749" textLength="5" lengthAdjust="spacingAndGlyphs">0</text>
<text x="1" y="487" textLength="118" lengthAdjust="spacingAndGlyphs">MACD(12,26,9) 48.09 52.02</text>
<text x="1" y="637" textLength="68" lengthAdjust="spacingAndGlyphs">RSI(14) 57.5927</text>
<path d="M0 37.6 L3.4 33 L6.8 37.6 Z" fill="#000"/>
<text x="12.5" y="38" textLength="40" lengthAdjust="spacingAndGlyphs">HK50-,H1</text>
<text x="59" y="38" textLength="141" lengthAdjust="spacingAndGlyphs">28871.5 28893.0 28862.0 28887.0</text>
<text x="-4" y="764.6" textLength="46.5" lengthAdjust="spacingAndGlyphs">8 Feb 2019</text>
<text x="60" y="764.6" textLength="54.5" lengthAdjust="spacingAndGlyphs">11 Feb 06:00</text>
<text x="124" y="764.6" textLength="54.5" lengthAdjust="spacingAndGlyphs">12 Feb 07:00</text>
<text x="188" y="764.6" textLength="54.5" lengthAdjust="spacingAndGlyphs">13 Feb 08:00</text>
<text x="252" y="764.6" textLength="54.5" lengthAdjust="spacingAndGlyphs">15 Feb 01:15</text>
<text x="316" y="764.6" textLength="54.5" lengthAdjust="spacingAndGlyphs">18 Feb 02:15</text>
<text x="380" y="764.6" textLength="54.5" lengthAdjust="spacingAndGlyphs">19 Feb 03:15</text>
<text x="444" y="764.6" textLength="54.5" lengthAdjust="spacingAndGlyphs">20 Feb 05:00</text>
<text x="508" y="764.6" textLength="54.5" lengthAdjust="spacingAndGlyphs">21 Feb 06:00</text>
<text x="572" y="764.6" textLength="54.5" lengthAdjust="spacingAndGlyphs">22 Feb 07:00</text>
<text x="636" y="764.6" textLength="54.5" lengthAdjust="spacingAndGlyphs">25 Feb 08:00</text>
<text x="700" y="764.6" textLength="54.5" lengthAdjust="spacingAndGlyphs">27 Feb 01:15</text>
<text x="764" y="764.6" textLength="54.5" lengthAdjust="spacingAndGlyphs">28 Feb 02:15</text>
<text x="828" y="764.6" textLength="49" lengthAdjust="spacingAndGlyphs">1 Mar 03:15</text>
<text x="892" y="764.6" textLength="49" lengthAdjust="spacingAndGlyphs">4 Mar 05:00</text>
<text x="956" y="764.6" textLength="49" lengthAdjust="spacingAndGlyphs">5 Mar 06:00</text>
<text x="1020" y="764.6" textLength="49" lengthAdjust="spacingAndGlyphs">6 Mar 07:00</text>
<text x="1084" y="764.6" textLength="49" lengthAdjust="spacingAndGlyphs">7 Mar 08:00</text>
<text x="1148" y="764.6" textLength="54.5" lengthAdjust="spacingAndGlyphs">11 Mar 01:15</text>
<text x="1212" y="764.6" textLength="54.5" lengthAdjust="spacingAndGlyphs">12 Mar 02:15</text>
<text x="1276" y="764.6" textLength="54.5" lengthAdjust="spacingAndGlyphs">13 Mar 03:15</text>
<text x="1340" y="764.6" textLength="54.5" lengthAdjust="spacingAndGlyphs">14 Mar 05:00</text>
<text x="980" y="210.1" fill="#00ff00" font-family="'Liberation Serif','Noto Serif CJK SC',serif" font-size="19.6px" font-weight="600" letter-spacing="3.45">多空转折点</text>
<text x="1094" y="210" fill="#00ff00" font-size="21px" font-weight="bold" textLength="59" lengthAdjust="spacingAndGlyphs">28745</text>
</svg>
<svg width="1628" height="26" viewBox="0 0 1628 26" style="position:absolute;left:0;top:0" font-family="'Liberation Sans','Noto Sans CJK SC',sans-serif">
<defs>
<pattern id="chk" width="2" height="2" patternUnits="userSpaceOnUse"><rect width="2" height="2" fill="#fff"/><rect width="1" height="1" fill="#f0f0f0"/><rect x="1" y="1" width="1" height="1" fill="#f0f0f0"/></pattern>
<linearGradient id="gold" x1="0" y1="0" x2="1" y2="1"><stop offset="0" stop-color="#e8a800"/><stop offset="0.45" stop-color="#f6c914"/><stop offset="0.8" stop-color="#ffe77a"/><stop offset="1" stop-color="#f0bd22"/></linearGradient>
<radialGradient id="sig" gradientUnits="userSpaceOnUse" cx="90.5" cy="15.5" r="13"><stop offset="0" stop-color="#2fa33a" stop-opacity="0.95"/><stop offset="0.45" stop-color="#a9d3a3" stop-opacity="0.8"/><stop offset="0.8" stop-color="#dcead8" stop-opacity="0.55"/><stop offset="1" stop-color="#eef2ec" stop-opacity="0.1"/></radialGradient>
<linearGradient id="cloud" x1="0" y1="0" x2="0" y2="1"><stop offset="0" stop-color="#ffffff"/><stop offset="1" stop-color="#c3d2ea"/></linearGradient>
<linearGradient id="srv" x1="0" y1="0" x2="1" y2="0"><stop offset="0" stop-color="#1786f5"/><stop offset="1" stop-color="#59b4ff"/></linearGradient>
<linearGradient id="grn" x1="0" y1="0" x2="1" y2="0"><stop offset="0" stop-color="#12c412"/><stop offset="0.5" stop-color="#7df07d"/><stop offset="1" stop-color="#12c412"/></linearGradient>
<radialGradient id="lens" cx="0.45" cy="0.4" r="0.7"><stop offset="0" stop-color="#f2fbff"/><stop offset="1" stop-color="#bfe6f8"/></radialGradient>
<linearGradient id="hat" x1="0" y1="0" x2="0" y2="1"><stop offset="0" stop-color="#86caf0"/><stop offset="1" stop-color="#48a4dc"/></linearGradient>
<linearGradient id="face" x1="0" y1="0" x2="1" y2="1"><stop offset="0" stop-color="#fff3a0"/><stop offset="1" stop-color="#f0b400"/></linearGradient>
<radialGradient id="clk" cx="0.5" cy="0.5" r="0.5"><stop offset="0" stop-color="#ffffff"/><stop offset="0.66" stop-color="#cfe6fa"/><stop offset="0.76" stop-color="#2f7fe0"/><stop offset="1" stop-color="#0b4fb5"/></radialGradient>
<linearGradient id="bub" x1="0" y1="0" x2="0" y2="1"><stop offset="0" stop-color="#ffffff"/><stop offset="0.5" stop-color="#f4f4f6"/><stop offset="1" stop-color="#dcdce2"/></linearGradient>
<linearGradient id="plus" x1="0" y1="0" x2="1" y2="1"><stop offset="0" stop-color="#1fd22c"/><stop offset="0.5" stop-color="#4df05a"/><stop offset="1" stop-color="#16c224"/></linearGradient>
<linearGradient id="clkr" x1="0" y1="0" x2="0" y2="1"><stop offset="0" stop-color="#3d8fe8"/><stop offset="1" stop-color="#0a45a6"/></linearGradient>
<radialGradient id="clkf" cx="0.5" cy="0.45" r="0.6"><stop offset="0" stop-color="#ffffff"/><stop offset="1" stop-color="#dbe9f7"/></radialGradient>
<linearGradient id="tb" x1="0" y1="0" x2="0" y2="1"><stop offset="0" stop-color="#2f69c6"/><stop offset="1" stop-color="#84b4ee"/></linearGradient>
<linearGradient id="gsq" x1="0" y1="0" x2="0" y2="1"><stop offset="0" stop-color="#2f9a1a"/><stop offset="1" stop-color="#56c22f"/></linearGradient>
<linearGradient id="bsq" x1="0" y1="0" x2="0" y2="1"><stop offset="0" stop-color="#1647c9"/><stop offset="1" stop-color="#3f86ea"/></linearGradient>
</defs>
<rect x="0" y="0" width="1628" height="22" fill="#f0f0f0"/>
<g shape-rendering="crispEdges"><rect x="0" y="21" width="1628" height="1" fill="#ececec"/><rect x="0" y="22" width="1628" height="1" fill="#a2a2a2"/><rect x="0" y="23" width="1628" height="1" fill="#6a6a6a"/><rect x="0" y="24" width="1628" height="2" fill="#fff"/></g>
<text x="-1.6" y="13.6" font-size="12px" fill="#000">单</text>
<path d="M27.6 3 L37 9.2 Q38.5 10.6 37.8 12.2 L30.8 17.3 Q29.8 17.9 28.8 17.3 L22.2 12.5 Q21.7 11.8 22.4 11 Q26 8.2 27.6 3 Z" fill="#b0700c" stroke="#a86a0a" stroke-width="0.7" stroke-linejoin="round"/>
<path d="M28.2 4.6 L35.9 9.8 L29.8 14.6 L24 11.1 Q26.8 8.4 28.2 4.6 Z" fill="url(#gold)"/>
<path d="M23.3 12 L29.6 15.9 L29.6 16.8 L23.1 12.6 Z" fill="#ffdc62"/>
<path d="M30.6 16.3 L37 11.5 L36.8 10.8 L30.5 15.6 Z" fill="#ecdca4"/>
<path d="M52.3 2.5 L59.2 2.4 L62.8 4.8 L62.8 11 L52.3 11 Z" fill="#2296ff"/>
<path d="M52.3 2.5 L59.2 2.4 L62.8 4.8 L55.4 5.4 Z" fill="#1a8dfa"/>
<path d="M52.3 2.5 L55.4 5.4 L55.4 11 L52.3 11 Z" fill="#0b86ff"/>
<path d="M55.4 5.4 L62.8 4.8 L62.8 11 L55.4 11 Z" fill="#3fb0ff"/>
<path d="M52.5 2.7 L55.4 5.4 L55.4 11" fill="none" stroke="#d6efff" stroke-width="0.7"/>
<path d="M57.3 7.7 L61.8 6.9 L61.8 7.6 L57.3 8.4 Z" fill="#fff"/>
<path d="M52.6 17.5 Q50.2 17.2 50.5 14.9 Q50.9 12.6 53.3 12.9 Q54 10.3 57.6 10.2 Q60.4 10.2 61.2 12 Q62.6 10.9 64.2 11.6 Q65.4 12.3 65 13.6 Q66.2 14.6 65.8 16 Q65.4 17.5 63.4 17.5 Z" fill="url(#cloud)" stroke="#4f6ea8" stroke-width="1"/>
<g fill="none" stroke="#3f69d6"><circle cx="86" cy="9.6" r="7.5" stroke-width="1.1" opacity="0.7"/><circle cx="86" cy="9.6" r="4.6" stroke-width="1.1" opacity="0.7"/></g>
<path d="M86 1.8 A7.8 7.8 0 0 1 86 17.4 Z" fill="url(#sig)"/>
<path d="M86.6 17.5 A7.9 7.9 0 0 0 93.6 11.6" fill="none" stroke="#2f9a3a" stroke-width="1.2" opacity="0.9"/>
<circle cx="86" cy="9.5" r="1.9" fill="#2458d4"/><rect x="85.9" y="9.9" width="1.3" height="7.8" fill="#22a322"/>
<path d="M105.5 9 L120.7 8.2 L121 10.4 Q118 14.4 113.6 17.9 L111.8 17.4 Q107.4 13.6 105.5 9 Z" fill="url(#face)" stroke="#d9a514" stroke-width="0.7"/>
<path d="M105.3 7.6 Q104.8 6.2 107 6 Q109.4 6.4 109.2 6.6 Q109.6 2.2 112.9 2 Q116.2 2.2 116.6 5.8 Q119.4 4.4 120.8 5.2 Q121.6 6 120.4 7.2 Q117.6 9.6 112.8 9.7 Q107.4 9.6 105.3 7.6 Z" fill="url(#hat)" stroke="#1f7fb0" stroke-width="0.8"/>
<circle cx="117.6" cy="13.7" r="4" fill="#e62a08" stroke="#bd1505" stroke-width="0.8"/><rect x="116.2" y="12.3" width="2.9" height="2.9" fill="#fff"/>
<text x="126.6" y="13.5" font-size="12px" fill="#000" textLength="46.5" lengthAdjust="spacingAndGlyphs">自动交易</text>
<rect x="181" y="0" width="1" height="22" fill="#a0a0a0" shape-rendering="crispEdges"/><rect x="182" y="0" width="1" height="22" fill="#fff" shape-rendering="crispEdges"/>
<g shape-rendering="crispEdges"><rect x="185" y="0" width="3" height="1" fill="#a4a4a4"/><rect x="185" y="1" width="3" height="1" fill="#f8f8f8"/><rect x="185" y="2" width="3" height="1" fill="#a4a4a4"/><rect x="185" y="3" width="3" height="1" fill="#f8f8f8"/><rect x="185" y="4" width="3" height="1" fill="#a4a4a4"/><rect x="185" y="5" width="3" height="1" fill="#f8f8f8"/><rect x="185" y="6" width="3" height="1" fill="#a4a4a4"/><rect x="185" y="7" width="3" height="1" fill="#f8f8f8"/><rect x="185" y="8" width="3" height="1" fill="#a4a4a4"/><rect x="185" y="9" width="3" height="1" fill="#f8f8f8"/><rect x="185" y="10" width="3" height="1" fill="#a4a4a4"/><rect x="185" y="11" width="3" height="1" fill="#f8f8f8"/><rect x="185" y="12" width="3" height="1" fill="#a4a4a4"/><rect x="185" y="13" width="3" height="1" fill="#f8f8f8"/><rect x="185" y="14" width="3" height="1" fill="#a4a4a4"/><rect x="185" y="15" width="3" height="1" fill="#f8f8f8"/><rect x="185" y="16" width="3" height="1" fill="#a4a4a4"/><rect x="185" y="17" width="3" height="1" fill="#f8f8f8"/><rect x="185" y="18" width="3" height="1" fill="#a4a4a4"/><rect x="185" y="19" width="3" height="1" fill="#f8f8f8"/></g>
<g shape-rendering="crispEdges" fill="#585858"><rect x="199" y="4" width="1" height="14"/><rect x="198" y="5" width="3" height="1"/><rect x="197" y="15" width="14" height="1"/><rect x="209" y="14" width="1" height="3"/></g>
<g shape-rendering="crispEdges" fill="#0a8c0a"><rect x="205" y="5" width="1.4" height="9"/><rect x="205" y="6" width="3.4" height="1.2"/><rect x="203" y="12" width="3" height="1.2"/></g>
<rect x="219" y="0" width="26" height="21" fill="url(#chk)" shape-rendering="crispEdges"/><rect x="219" y="0" width="1" height="20" fill="#9c9c9c" shape-rendering="crispEdges"/><rect x="244" y="0" width="1" height="21" fill="#fff" shape-rendering="crispEdges"/><rect x="219" y="20" width="26" height="1" fill="#fff" shape-rendering="crispEdges"/>
<g shape-rendering="crispEdges" fill="#585858"><rect x="227" y="4" width="1" height="14"/><rect x="226" y="5" width="3" height="1"/><rect x="225" y="15" width="14" height="1"/><rect x="237" y="14" width="1" height="3"/></g>
<rect x="233" y="2.2" width="1" height="11.6" fill="#0d8f0d" shape-rendering="crispEdges"/><rect x="231.2" y="4.6" width="4.6" height="7.2" fill="url(#grn)" stroke="#0a960a" stroke-width="0.9"/>
<g shape-rendering="crispEdges" fill="#585858"><rect x="255" y="4" width="1" height="14"/><rect x="254" y="5" width="3" height="1"/><rect x="253" y="15" width="14" height="1"/><rect x="265" y="14" width="1" height="3"/></g>
<path d="M254.2 12.8 Q257.5 7.2 260.3 7.4 Q262 7.6 263.6 9.6 Q264.6 10.7 265.8 11" fill="none" stroke="#2e9a2e" stroke-width="1.2"/>
<rect x="276" y="0" width="1" height="20" fill="#a0a0a0" shape-rendering="crispEdges"/><rect x="277" y="0" width="1" height="20" fill="#fff" shape-rendering="crispEdges"/>
<path d="M294.2 12 L299.6 16.4" stroke="#a9790f" stroke-width="3.2"/><path d="M294.2 12 L299.4 16.2" stroke="#f1d349" stroke-width="1.7"/>
<circle cx="291" cy="8" r="5.6" fill="url(#lens)" stroke="#2f72c4" stroke-width="1.1"/>
<rect x="287.5" y="7" width="7" height="2" fill="#3b86b8"/>
<rect x="290" y="4.5" width="2" height="7" fill="#3b86b8"/>
<path d="M322.2 12 L327.6 16.4" stroke="#a9790f" stroke-width="3.2"/><path d="M322.2 12 L327.4 16.2" stroke="#f1d349" stroke-width="1.7"/>
<circle cx="319" cy="8" r="5.6" fill="url(#lens)" stroke="#2f72c4" stroke-width="1.1"/>
<rect x="315.5" y="7" width="7" height="2" fill="#3b86b8"/>
<rect x="341" y="2" width="7.9" height="7.9" fill="url(#gsq)"/><rect x="342.2" y="5" width="5.6" height="3" fill="#fff"/><rect x="342.2" y="8" width="1.4" height="1" fill="#fff"/><rect x="346.4" y="8" width="1.4" height="1" fill="#fff"/><rect x="343.2" y="6" width="3.6" height="1" fill="url(#gsq)" opacity="0.4"/><rect x="342" y="3" width="1" height="1" fill="#fff" opacity="0.85"/>
<rect x="349.1" y="2" width="7.9" height="7.9" fill="url(#bsq)"/><rect x="350.3" y="5" width="5.6" height="3" fill="#fff"/><rect x="350.3" y="8" width="1.4" height="1" fill="#fff"/><rect x="354.5" y="8" width="1.4" height="1" fill="#fff"/><rect x="351.3" y="6" width="3.6" height="1" fill="url(#bsq)" opacity="0.4"/><rect x="350.1" y="3" width="1" height="1" fill="#fff" opacity="0.85"/>
<rect x="341" y="10" width="7.9" height="7.9" fill="url(#bsq)"/><rect x="342.2" y="13" width="5.6" height="3" fill="#fff"/><rect x="342.2" y="16" width="1.4" height="1" fill="#fff"/><rect x="346.4" y="16" width="1.4" height="1" fill="#fff"/><rect x="343.2" y="14" width="3.6" height="1" fill="url(#bsq)" opacity="0.4"/><rect x="342" y="11" width="1" height="1" fill="#fff" opacity="0.85"/>
<rect x="349.1" y="10" width="7.9" height="7.9" fill="url(#gsq)"/><rect x="350.3" y="13" width="5.6" height="3" fill="#fff"/><rect x="350.3" y="16" width="1.4" height="1" fill="#fff"/><rect x="354.5" y="16" width="1.4" height="1" fill="#fff"/><rect x="351.3" y="14" width="3.6" height="1" fill="url(#gsq)" opacity="0.4"/><rect x="350.1" y="11" width="1" height="1" fill="#fff" opacity="0.85"/>
<rect x="366" y="0" width="1" height="20" fill="#a0a0a0" shape-rendering="crispEdges"/><rect x="367" y="0" width="1" height="20" fill="#fff" shape-rendering="crispEdges"/>
<rect x="371" y="0" width="26" height="21" fill="url(#chk)" shape-rendering="crispEdges"/><rect x="371" y="0" width="1" height="20" fill="#9c9c9c" shape-rendering="crispEdges"/><rect x="396" y="0" width="1" height="21" fill="#fff" shape-rendering="crispEdges"/><rect x="371" y="20" width="26" height="1" fill="#fff" shape-rendering="crispEdges"/>
<g shape-rendering="crispEdges" fill="#585858"><rect x="379" y="4" width="1" height="14"/><rect x="378" y="5" width="3" height="1"/><rect x="377" y="15" width="14" height="1"/><rect x="389" y="14" width="1" height="3"/></g>
<path d="M384 5.6 L388.2 9.3 L384 13 Z" fill="#5fd75f" stroke="#12a012" stroke-width="0.9"/>
<rect x="399" y="0" width="26" height="21" fill="url(#chk)" shape-rendering="crispEdges"/><rect x="399" y="0" width="1" height="20" fill="#9c9c9c" shape-rendering="crispEdges"/><rect x="424" y="0" width="1" height="21" fill="#fff" shape-rendering="crispEdges"/><rect x="399" y="20" width="26" height="1" fill="#fff" shape-rendering="crispEdges"/>
<g shape-rendering="crispEdges" fill="#585858"><rect x="407" y="4" width="1" height="14"/><rect x="406" y="5" width="3" height="1"/><rect x="405" y="15" width="14" height="1"/><rect x="417" y="14" width="1" height="3"/></g>
<rect x="413" y="4" width="1" height="10" fill="#1e6fb0" shape-rendering="crispEdges"/><path d="M414.6 9.4 L418.6 9.4 M414.8 9.4 L417 7.4 M414.8 9.4 L417 11.4" stroke="#d03a10" stroke-width="1.1" fill="none"/>
<rect x="428" y="0" width="1" height="20" fill="#a0a0a0" shape-rendering="crispEdges"/><rect x="429" y="0" width="1" height="20" fill="#fff" shape-rendering="crispEdges"/>
<path d="M438.5 2.9 L446 2.9 L449.4 6.2 L449.4 15.2 L438.5 15.2 Z" fill="#fafafa" stroke="#7d7d7d" stroke-width="0.9"/><path d="M446 2.9 L446 6.2 L449.4 6.2" fill="#e0e0e0" stroke="#8a8a8a" stroke-width="0.7"/><text x="440.2" y="12.6" font-family="'Liberation Serif',serif" font-size="11px" font-style="italic" fill="#3c3c3c">f</text>
<path d="M446.5 7.9 L450.2 7.9 L450.2 11.9 L454 11.9 L454 15.6 L450.2 15.6 L450.2 19.5 L446.5 19.5 L446.5 15.6 L442.4 15.6 L442.4 11.9 L446.5 11.9 Z" fill="url(#plus)" stroke="#0c8a16" stroke-width="0.9"/>
<path d="M459.8 9 L465.40000000000003 9 L462.6 12.3 Z" fill="#000"/>
<circle cx="484" cy="9.9" r="7.1" fill="url(#clkf)" stroke="url(#clkr)" stroke-width="1.9"/><g stroke="#9aa4b0" stroke-width="0.7"><path d="M484 4.6 L484 5.6 M484 14.2 L484 15.2 M478.7 9.9 L479.7 9.9 M488.3 9.9 L489.3 9.9 M480.3 6.2 L480.9 6.8 M487.7 6.2 L487.1 6.8 M480.3 13.6 L480.9 13 M487.7 13.6 L487.1 13"/></g><path d="M484 5.9 L484 10 L486.8 10" stroke="#1a1a1a" stroke-width="1.2" fill="none"/><rect x="483.4" y="12.6" width="1.2" height="0.8" fill="#5a9ae6"/>
<path d="M498.6 9 L504.20000000000005 9 L501.40000000000003 12.3 Z" fill="#000"/>
<rect x="515.5" y="3.4" width="15.1" height="13.3" fill="#fdfdfd" stroke="#3b6fc2" stroke-width="1"/><rect x="515" y="2.9" width="16.1" height="2.9" fill="url(#tb)"/><rect x="516" y="10.6" width="14.1" height="0.9" fill="#6f9ee0"/><path d="M517.2 9.3 L520.4 9.3 L522.2 7.5 L524 7.5 L525.4 8.6 L527.2 8.6 L528.8 7" stroke="#a3220c" stroke-width="1.3" fill="none"/><path d="M518.4 14.6 L521.1 14.6 L522.5 13.5 L524 14.6 L526.1 12.5 L528.6 14.7" stroke="#129232" stroke-width="1.2" fill="none"/>
<path d="M537.4 9 L543.0 9 L540.1999999999999 12.3 Z" fill="#000"/>
<rect x="549" y="0" width="1" height="22" fill="#a0a0a0" shape-rendering="crispEdges"/><rect x="550" y="0" width="1" height="22" fill="#fff" shape-rendering="crispEdges"/>
<g shape-rendering="crispEdges"><rect x="553" y="0" width="3" height="1" fill="#a4a4a4"/><rect x="553" y="1" width="3" height="1" fill="#f8f8f8"/><rect x="553" y="2" width="3" height="1" fill="#a4a4a4"/><rect x="553" y="3" width="3" height="1" fill="#f8f8f8"/><rect x="553" y="4" width="3" height="1" fill="#a4a4a4"/><rect x="553" y="5" width="3" height="1" fill="#f8f8f8"/><rect x="553" y="6" width="3" height="1" fill="#a4a4a4"/><rect x="553" y="7" width="3" height="1" fill="#f8f8f8"/><rect x="553" y="8" width="3" height="1" fill="#a4a4a4"/><rect x="553" y="9" width="3" height="1" fill="#f8f8f8"/><rect x="553" y="10" width="3" height="1" fill="#a4a4a4"/><rect x="553" y="11" width="3" height="1" fill="#f8f8f8"/><rect x="553" y="12" width="3" height="1" fill="#a4a4a4"/><rect x="553" y="13" width="3" height="1" fill="#f8f8f8"/><rect x="553" y="14" width="3" height="1" fill="#a4a4a4"/><rect x="553" y="15" width="3" height="1" fill="#f8f8f8"/><rect x="553" y="16" width="3" height="1" fill="#a4a4a4"/><rect x="553" y="17" width="3" height="1" fill="#f8f8f8"/><rect x="553" y="18" width="3" height="1" fill="#a4a4a4"/><rect x="553" y="19" width="3" height="1" fill="#f8f8f8"/></g>
<rect x="559" y="0" width="26" height="21" fill="url(#chk)" shape-rendering="crispEdges"/><rect x="559" y="0" width="1" height="20" fill="#9c9c9c" shape-rendering="crispEdges"/><rect x="584" y="0" width="1" height="21" fill="#fff" shape-rendering="crispEdges"/><rect x="559" y="20" width="26" height="1" fill="#fff" shape-rendering="crispEdges"/>
<path d="M566.6 3 L566.6 15.6 L569.5 13.2 L571.6 18.8 L573.8 17.9 L571.7 12.6 L575.6 12.4 Z" fill="#4d4d4d"/>
<g shape-rendering="crispEdges" fill="#555"><rect x="599" y="3" width="1" height="6"/><rect x="599" y="12" width="1" height="6"/><rect x="592" y="10" width="6" height="1"/><rect x="601" y="10" width="6" height="1"/><rect x="599" y="10" width="1" height="1" fill="#999"/></g>
<rect x="616" y="0" width="1" height="20" fill="#a0a0a0" shape-rendering="crispEdges"/><rect x="617" y="0" width="1" height="20" fill="#fff" shape-rendering="crispEdges"/>
<g shape-rendering="crispEdges" fill="#555"><rect x="633" y="4" width="1" height="13"/><rect x="656" y="10" width="12" height="1"/></g>
<path d="M684 17 L696.2 4.8" stroke="#555" stroke-width="1.1"/>
<g stroke="#4c4c4c" fill="none"><path d="M709.8 11.4 L717.8 4.2" stroke-width="0.9"/><path d="M715.2 16.8 L724.3 8.4" stroke-width="0.9"/><path d="M711.2 15.4 L722.8 6.4" stroke-width="1.3"/><path d="M712.3 9.4 L712.3 16.8 M715.4 8 L715.4 13.4 M718.4 6.2 L718.4 13 M721.5 2 L721.5 9.2" stroke-width="1.3"/></g><text x="720.8" y="18.9" font-size="6.8px" font-weight="bold" fill="#404040">E</text>
<g stroke="#666" stroke-width="1" stroke-dasharray="1 1" shape-rendering="crispEdges"><path d="M739 3.5 L752 3.5"/><path d="M739 6.5 L752 6.5"/><path d="M739 10.5 L752 10.5"/><path d="M739 14.5 L748 14.5"/></g><text x="748.8" y="18.9" font-size="6.8px" font-weight="bold" fill="#404040">F</text>
<text x="769.6" y="14.7" font-size="12.2px" fill="#505050" stroke="#505050" stroke-width="0.25" textLength="8" lengthAdjust="spacingAndGlyphs">A</text>
<rect x="796.5" y="4.5" width="11" height="12" fill="none" stroke="#555" stroke-width="1" stroke-dasharray="1 1" shape-rendering="crispEdges"/><rect x="795.5" y="3.5" width="2" height="1.4" fill="#555"/><path d="M798.6 6.4 L805.4 6.4 L805.4 7.8 L802.8 7.8 L802.8 15 L801.2 15 L801.2 7.8 L798.6 7.8 Z" fill="#555"/>
<path d="M826.8 3.8 L830.8 7.9 L828.8 9.4 L824.8 9.4 L822.8 7.9 Z" fill="#555"/><path d="M833.4 16.9 L837.2 13.2 L835.3 11.7 L831.5 11.7 L829.6 13.2 Z" fill="#555"/><path d="M825.2 11.6 L827.7 13.8 L832.3 8.3" stroke="#555" stroke-width="1.5" fill="none"/>
<path d="M844 9 L849.6 9 L846.8 12.3 Z" fill="#000"/>
<rect x="855" y="0" width="1" height="22" fill="#a0a0a0" shape-rendering="crispEdges"/><rect x="856" y="0" width="1" height="22" fill="#fff" shape-rendering="crispEdges"/>
<g shape-rendering="crispEdges"><rect x="859" y="0" width="3" height="1" fill="#a4a4a4"/><rect x="859" y="1" width="3" height="1" fill="#f8f8f8"/><rect x="859" y="2" width="3" height="1" fill="#a4a4a4"/><rect x="859" y="3" width="3" height="1" fill="#f8f8f8"/><rect x="859" y="4" width="3" height="1" fill="#a4a4a4"/><rect x="859" y="5" width="3" height="1" fill="#f8f8f8"/><rect x="859" y="6" width="3" height="1" fill="#a4a4a4"/><rect x="859" y="7" width="3" height="1" fill="#f8f8f8"/><rect x="859" y="8" width="3" height="1" fill="#a4a4a4"/><rect x="859" y="9" width="3" height="1" fill="#f8f8f8"/><rect x="859" y="10" width="3" height="1" fill="#a4a4a4"/><rect x="859" y="11" width="3" height="1" fill="#f8f8f8"/><rect x="859" y="12" width="3" height="1" fill="#a4a4a4"/><rect x="859" y="13" width="3" height="1" fill="#f8f8f8"/><rect x="859" y="14" width="3" height="1" fill="#a4a4a4"/><rect x="859" y="15" width="3" height="1" fill="#f8f8f8"/><rect x="859" y="16" width="3" height="1" fill="#a4a4a4"/><rect x="859" y="17" width="3" height="1" fill="#f8f8f8"/><rect x="859" y="18" width="3" height="1" fill="#a4a4a4"/><rect x="859" y="19" width="3" height="1" fill="#f8f8f8"/></g>
<rect x="977" y="0" width="26" height="21" fill="url(#chk)" shape-rendering="crispEdges"/><rect x="977" y="0" width="1" height="20" fill="#9c9c9c" shape-rendering="crispEdges"/><rect x="1002" y="0" width="1" height="21" fill="#fff" shape-rendering="crispEdges"/><rect x="977" y="20" width="26" height="1" fill="#fff" shape-rendering="crispEdges"/>
<text x="870.6" y="13.4" font-size="9.7px" fill="#404040" textLength="12.6" lengthAdjust="spacingAndGlyphs">M1</text>
<text x="898.6" y="13.4" font-size="9.7px" fill="#404040" textLength="12.8" lengthAdjust="spacingAndGlyphs">M5</text>
<text x="924.7" y="13.4" font-size="9.7px" fill="#404040" textLength="17.5" lengthAdjust="spacingAndGlyphs">M15</text>
<text x="952.7" y="13.4" font-size="9.7px" fill="#404040" textLength="17.5" lengthAdjust="spacingAndGlyphs">M30</text>
<text x="983.7" y="13.4" font-size="9.7px" fill="#404040" textLength="11.6" lengthAdjust="spacingAndGlyphs">H1</text>
<text x="1010.6" y="13.4" font-size="9.7px" fill="#404040" textLength="12.6" lengthAdjust="spacingAndGlyphs">H4</text>
<text x="1039.5" y="13.4" font-size="9.7px" fill="#404040" textLength="11.8" lengthAdjust="spacingAndGlyphs">D1</text>
<text x="1067" y="13.4" font-size="9.7px" fill="#404040" textLength="14.4" lengthAdjust="spacingAndGlyphs">W1</text>
<text x="1093.6" y="13.4" font-size="9.7px" fill="#404040" textLength="14.7" lengthAdjust="spacingAndGlyphs">MN</text>
<rect x="1116" y="0" width="1" height="20" fill="#a0a0a0" shape-rendering="crispEdges"/><rect x="1117" y="0" width="1" height="20" fill="#fff" shape-rendering="crispEdges"/>
<path d="M1583.3 10.6 L1579 14.7" stroke="#2253d2" stroke-width="2.7" stroke-linecap="round"/><circle cx="1586.6" cy="7.3" r="3.9" fill="#fafaff" stroke="#2c62da" stroke-width="1.4"/>
<path d="M1612.4 6.9 A6.8 4.8 0 1 1 1623.2 11.1 L1622.6 13.6 L1620.4 11.6 Q1614 11.9 1612.4 6.9 Z" fill="url(#bub)" stroke="#8c8c8c" stroke-width="0.9"/>
<path d="M1605.1 11 A5.3 3.9 0 1 1 1611.6 14.8 L1609.6 14.9 L1607.7 16.8 L1607.8 14.3 Q1605.1 13.2 1605.1 11 Z" fill="url(#bub)" stroke="#8c8c8c" stroke-width="0.9"/>
</svg>
<div id="oc">
<div class="wbg"></div><div class="wbg2"></div>
<div class="tab" style="left:0;width:52px"></div>
<div class="tab" style="left:167px;width:52px"></div>
<div class="btn" style="left:0;width:109px"></div>
<div class="btn" style="left:111px;width:108px"></div>
<div class="bt" style="left:52px;width:57px"></div><div class="bt" style="left:111px;width:56px"></div>
<div class="ud" style="left:4px"></div><div class="ul" style="left:4px"></div><div class="ud" style="left:171px"></div><div class="ul" style="left:171px"></div>
<div class="vol"><div class="vb" style="left:0;width:21px"><i class="dn"></i></div><div class="vi">1.00</div><div class="vb" style="left:89px;width:21px"><i class="up"></i></div></div>
<span class="lbl" style="left:12.2px;transform:scaleX(.855)">SELL</span><span class="lbl" style="left:180.2px;transform:scaleX(.915)">BUY</span>
<span class="pr" style="left:16.5px">28885</span><span class="big" style="left:54.2px">.5</span>
<span class="pr" style="left:126px">28901</span><span class="big" style="left:165px">.5</span>
</div>
</body></html>
